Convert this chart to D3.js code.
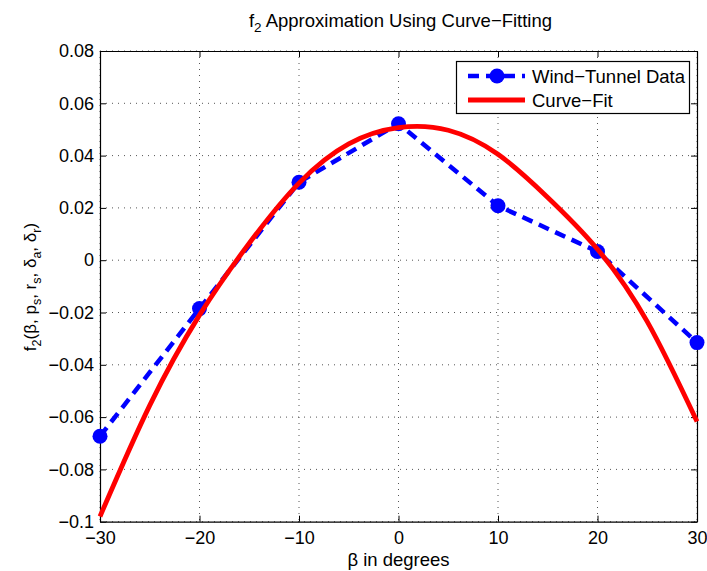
<!DOCTYPE html>
<html><head><meta charset="utf-8">
<script src="https://cdn.jsdelivr.net/npm/d3@7"></script>
<style>
body{margin:0;background:#fff;}
text{font-family:"Liberation Sans",Arial,Helvetica,sans-serif;fill:#000;}
</style>
</head><body><svg id="c" width="707" height="571"></svg>
<script>
// ---- data ----
const tunnelBeta = [-30, -20, -10, 0, 10, 20, 30];
const tunnelF2   = [-0.0673, -0.0185, 0.0298, 0.0522, 0.0208, 0.0033, -0.0315];
const fitBeta    = [-30, -25, -20, -15, -10, -5, 0, 5, 10, 15, 20, 25, 30];
const fitF2      = [-0.098, -0.0555, -0.021, 0.0065, 0.0295, 0.0445, 0.0507, 0.0497, 0.0405, 0.024, 0.0042, -0.0235, -0.0617];
const xTicks     = [-30, -20, -10, 0, 10, 20, 30];
const xTickLabels= ["−30", "−20", "−10", "0", "10", "20", "30"];
const yTicks     = [-0.1, -0.08, -0.06, -0.04, -0.02, 0, 0.02, 0.04, 0.06, 0.08];
const yTickLabels= ["−0.1", "−0.08", "−0.06", "−0.04", "−0.02", "0", "0.02", "0.04", "0.06", "0.08"];
const seriesNames= ["Wind−Tunnel Data", "Curve−Fit"];

const L = 100, R = 697, T = 51, B = 521.7;
const FS = 18, FL = 18.5, FSUB = 13.5;
const svg = d3.select("#c");
svg.append("rect").attr("width",707).attr("height",571).attr("fill","#fff");

const x = d3.scaleLinear().domain([-30, 30]).range([L, R]);
const y = d3.scaleLinear().domain([-0.1, 0.08]).range([B, T]);

// grid
const grid = svg.append("g").attr("stroke","#555").attr("stroke-width",1).attr("stroke-dasharray","1,5");
grid.selectAll("line.v").data(xTicks).join("line")
  .attr("x1", d => x(d)).attr("x2", d => x(d)).attr("y1", T).attr("y2", B);
grid.selectAll("line.h").data(yTicks).join("line")
  .attr("y1", d => y(d)).attr("y2", d => y(d)).attr("x1", L).attr("x2", R);

// axes
function styleAxis(g){
  g.selectAll("text").style("font-size", FS+"px").attr("fill","#000");
  g.selectAll("line").attr("stroke","#000");
  g.select(".domain").attr("stroke","#000").attr("stroke-width",1.2);
}
svg.append("g").attr("transform",`translate(0,${B})`)
  .call(d3.axisBottom(x).tickValues(xTicks).tickFormat((d,i)=>xTickLabels[i]).tickSizeInner(-6).tickSizeOuter(0).tickPadding(9.5))
  .call(styleAxis);
svg.append("g").attr("transform",`translate(0,${T})`)
  .call(d3.axisTop(x).tickValues(xTicks).tickFormat("").tickSizeInner(-6).tickSizeOuter(0))
  .call(styleAxis);
svg.append("g").attr("transform",`translate(${L},0)`)
  .call(d3.axisLeft(y).tickValues(yTicks).tickFormat((d,i)=>yTickLabels[i]).tickSizeInner(-6).tickSizeOuter(0).tickPadding(6))
  .call(styleAxis);
svg.append("g").attr("transform",`translate(${R},0)`)
  .call(d3.axisRight(y).tickValues(yTicks).tickFormat("").tickSizeInner(-6).tickSizeOuter(0))
  .call(styleAxis);

// data series
const tunnel = tunnelBeta.map((b,i)=>({b, f: tunnelF2[i]}));
const fit = fitBeta.map((b,i)=>({b, f: fitF2[i]}));
const plot = svg.append("g");
plot.append("path").datum(tunnel)
  .attr("d", d3.line().x(d=>x(d.b)).y(d=>y(d.f)))
  .attr("fill","none").attr("stroke","#0000ff").attr("stroke-width",4.5).attr("stroke-dasharray","11,7");
plot.selectAll("circle").data(tunnel).join("circle")
  .attr("cx", d=>x(d.b)).attr("cy", d=>y(d.f)).attr("r",7.5).attr("fill","#0000ff");
plot.append("path").datum(fit)
  .attr("d", d3.line().x(d=>x(d.b)).y(d=>y(d.f)).curve(d3.curveNatural))
  .attr("fill","none").attr("stroke","#ff0000").attr("stroke-width",4.8);

// legend
const lg = svg.append("g");
lg.append("rect").attr("x",456.5).attr("y",61.5).attr("width",233).attr("height",52)
  .attr("fill","#fff").attr("stroke","#000").attr("stroke-width",1.2);
lg.append("line").attr("x1",468).attr("x2",525).attr("y1",76).attr("y2",76)
  .attr("stroke","#0000ff").attr("stroke-width",4.5).attr("stroke-dasharray","11,7");
lg.append("circle").attr("cx",497).attr("cy",76).attr("r",7.5).attr("fill","#0000ff");
lg.append("line").attr("x1",468).attr("x2",525).attr("y1",100).attr("y2",100)
  .attr("stroke","#ff0000").attr("stroke-width",4.8);
lg.selectAll("text").data(seriesNames).join("text")
  .attr("x",532).attr("y",(d,i)=>82.5+i*24).style("font-size",FL+"px").text(d=>d);

// title
const title = svg.append("text").attr("x",(L+R)/2+2).attr("y",27).attr("text-anchor","middle").style("font-size","18.5px");
title.append("tspan").text("f");
title.append("tspan").attr("dy",5).style("font-size",FSUB+"px").text("2");
title.append("tspan").attr("dy",-5).text(" Approximation Using Curve−Fitting");

// x label
svg.append("text").attr("x",(L+R)/2).attr("y",566).attr("text-anchor","middle").style("font-size",FL+"px").text("β in degrees");

// y label
const yl = svg.append("text").attr("transform","translate(36,287) rotate(-90)").attr("text-anchor","middle").style("font-size","17px");
const parts = [["f",0],["2",1],["(β, p",0],["s",1],[", r",0],["s",1],[", δ",0],["a",1],[", δ",0],["r",1],[")",0]];
let prevSub = 0;
parts.forEach(([t,sub])=>{
  const ts = yl.append("tspan").text(t);
  const dy = (sub - prevSub) * 5;
  if (dy !== 0) ts.attr("dy", dy);
  if (sub) ts.style("font-size","12.5px");
  prevSub = sub;
});
</script>
</body></html>
